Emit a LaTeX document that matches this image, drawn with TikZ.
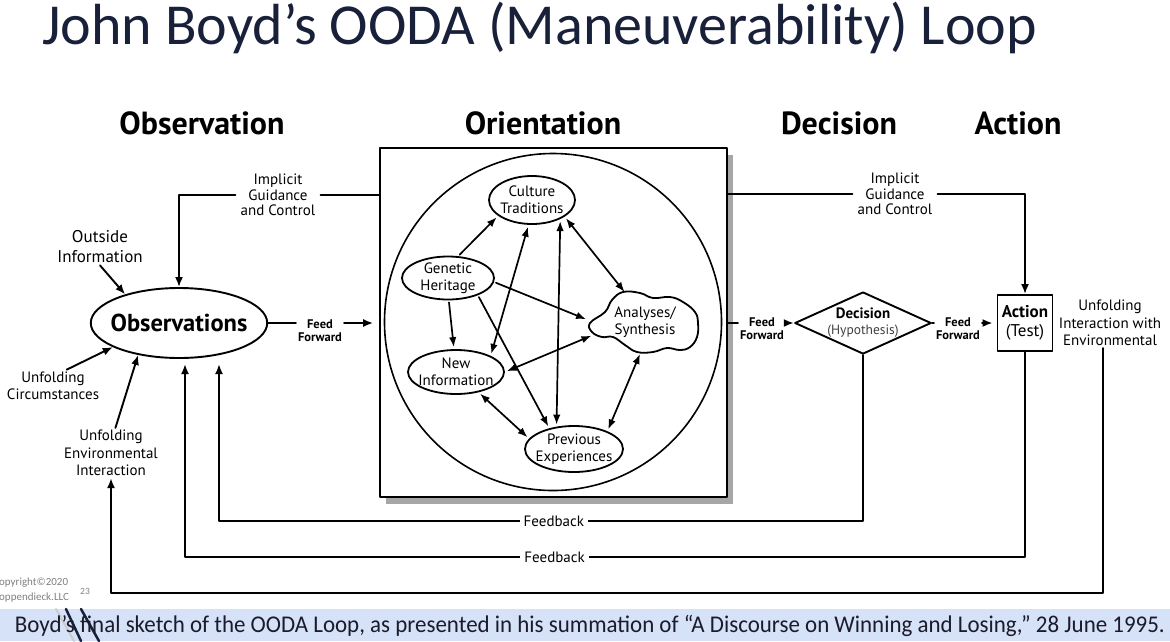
\documentclass[tikz,border=0pt]{standalone}
\usepackage{fontspec}
\usepackage{graphicx}
\usetikzlibrary{shapes.geometric,arrows.meta,calc,shadows}
\newfontfamily\labelfont{PT Sans}
\newfontfamily\titlefont{Carlito}
\definecolor{TitleNavy}{HTML}{18203A}
\definecolor{CaptionBlue}{HTML}{D6E2F7}
\definecolor{CaptionInk}{HTML}{1B1B2B}
\definecolor{ShadowGray}{HTML}{A6A6A6}

\begin{document}
\begin{tikzpicture}[x=1pt,y=-1pt,line cap=round,line join=round,
  conn/.style={line width=1.9pt},
  arr/.style={conn,-{Latex[length=10pt,width=8pt]}},
  inarr/.style={line width=1.7pt,shorten >=2pt,shorten <=2pt,-{Latex[length=10pt,width=7.5pt]}},
  indarr/.style={line width=1.7pt,shorten >=2pt,shorten <=2pt,{Latex[length=10pt,width=7.5pt]}-{Latex[length=10pt,width=7.5pt]}},
  lbl/.style={font=\labelfont\fontsize{15}{17.5}\selectfont,align=center,inner sep=2pt},
  guide/.style={align=center,font=\labelfont\fontsize{15}{15.5}\selectfont,inner sep=5pt},
  head/.style={font=\labelfont\bfseries\fontsize{32}{34}\selectfont},
  ff/.style={font=\labelfont\bfseries\fontsize{12.5}{13}\selectfont,align=center,inner sep=2pt},
  oval/.style={draw,ellipse,line width=1.8pt,inner xsep=-8pt,inner ysep=-6pt,align=center,font=\labelfont\fontsize{15}{17}\selectfont},
  fb/.style={font=\labelfont\fontsize{15}{15}\selectfont,fill=white,inner sep=4pt}]
  \useasboundingbox (0,0) rectangle (1170,641);

  % title and phase headers
  \node[anchor=base west,inner sep=0pt,text=TitleNavy,font=\titlefont\fontsize{58}{58}\selectfont] (title) at (42,44) {John Boyd’s OODA (Maneuverability) Loop};
  \node[head] (hobs) at (202,123) {Observation};
  \node[head] (hori) at (543,123) {Orientation};
  \node[head] (hdec) at (839,123) {Decision};
  \node[head] (hact) at (1018,123) {Action};

  % orientation box
  \node[draw,fill=white,line width=1.6pt,minimum width=347pt,minimum height=349pt,drop shadow={shadow xshift=6pt,shadow yshift=-7pt,fill=ShadowGray,opacity=1}] (orient) at (553.5,322.5) {};
  \node[draw,circle,line width=1.6pt,minimum size=337pt] (ring) at (553,322) {};
  \node[oval,minimum width=86pt,minimum height=48pt] (culture) at (532,200) {Culture\\Traditions};
  \node[oval,minimum width=92pt,minimum height=43pt] (genetic) at (448,278) {Genetic\\Heritage};
  \node[oval,minimum width=96pt,minimum height=44pt] (newinfo) at (456,372) {New\\Information};
  \node[oval,minimum width=98pt,minimum height=46pt] (previous) at (574,449) {Previous\\Experiences};
  \node[ellipse,inner xsep=-8pt,inner ysep=-6pt,align=center,font=\labelfont\fontsize{15}{17}\selectfont,minimum width=114pt,minimum height=60pt] (analyses) at (645,322) {Analyses/\\Synthesis};
  \draw[line width=1.8pt] plot[smooth cycle,tension=0.7] coordinates {(590,323) (605,312) (612,300) (623,292) (640,293) (653,298) (670,297) (683,302) (695,312) (698,323) (697,337) (690,347) (680,350) (667,348) (653,352) (637,352) (625,345) (613,337) (602,337) (592,332)};

  \draw[inarr] (genetic.65) -- (culture.205);
  \draw[inarr] (genetic.272) -- (newinfo.95);
  \draw[inarr] (genetic.-5) -- (analyses.178);
  \draw[inarr] (genetic.-30) -- (previous.140);
  \draw[indarr] (newinfo.25) -- (culture.262);
  \draw[indarr] (culture.-34) -- (previous.128);
  \draw[indarr] (culture.-27) -- (analyses.124);
  \draw[indarr] (newinfo.0) -- (analyses.194);
  \draw[indarr] (newinfo.-42) -- (previous.167);
  \draw[indarr] (previous.28) -- (analyses.262);

  % observation side
  \node[draw,ellipse,line width=1.9pt,minimum width=158pt,minimum height=70pt,inner sep=-6pt,font=\labelfont\bfseries\fontsize{24.5}{26}\selectfont] (obs) at (179,323) {Observations};
  \node[lbl,font=\labelfont\fontsize{17}{20}\selectfont] (outside) at (100,247) {Outside\\Information};
  \node[lbl] (circum) at (53,386) {Unfolding\\Circumstances};
  \node[lbl] (envint) at (111,453) {Unfolding\\Environmental\\Interaction};
  \node[guide] (guideL) at (278,195) {Implicit\\Guidance\\and Control};
  \node[ff] (ffL) at (320,331) {Feed\\Forward};

  % decision and action side
  \node[draw,diamond,shape aspect=2.2,line width=1.9pt,inner sep=0pt,minimum width=124pt,minimum height=60pt,align=center,font=\labelfont\fontsize{15}{16}\selectfont] (decision) at (863,323) {\textbf{Decision}\\{\color{darkgray}\fontsize{13.5}{14}\selectfont(Hypothesis)}};
  \node[draw,line width=1.9pt,minimum width=55pt,minimum height=56pt,inner sep=0pt,align=center,font=\labelfont\fontsize{17}{19}\selectfont] (action) at (1025,323) {\textbf{Action}\\(Test)};
  \node[guide] (guideR) at (895,194) {Implicit\\Guidance\\and Control};
  \node[ff] (ffM) at (762,329) {Feed\\Forward};
  \node[ff] (ffR) at (958,329) {Feed\\Forward};
  \node[lbl] (unfold) at (1110,323) {Unfolding\\Interaction with\\Environmental};

  % connectors
  \draw[conn] (obs.east) -- (obs.east -| ffL.west);
  \draw[arr] (obs.east -| ffL.east) -- ($(obs.east -| orient.west)+(-6,0)$);
  \draw[conn] (orient.east |- decision.west) -- (ffM.west |- decision.west);
  \draw[arr] (ffM.east |- decision.west) -- (decision.west);
  \draw[conn] (decision.east) -- (ffR.west |- decision.east);
  \draw[arr] (ffR.east |- decision.east) -- ($(action.west)+(-4,0)$);
  \draw[conn] (guideL.east) -- (guideL.east -| orient.west);
  \draw[arr] (guideL.west) -| (obs.north);
  \draw[conn] (orient.east |- guideR.west) -- (guideR.west);
  \draw[arr] (guideR.east) -| (action.north);
  \draw[arr] (outside.south) -- (obs.152);
  \draw[arr] (circum.50) -- (obs.200);
  \draw[arr] (envint.80) -- (obs.218);
  \coordinate (fbin) at (219,364);
  \coordinate (fbout) at (185,364);
  \draw[arr] (decision.south) -- ++(0,166) -| node[fb,pos=0.24] (fbtxtin) {Feedback} (fbin);
  \draw[arr] (action.south) -- ++(0,205) -| node[fb,pos=0.28] (fbtxtout) {Feedback} (fbout);
  \draw[arr] ($(unfold.south)+(-7,0)$) -- ++(0,245) -| (envint.south);

  % slide footer
  \node[anchor=west,inner sep=0pt,text=gray,font=\titlefont\fontsize{11}{11}\selectfont] (copy1) at (-1,583) {opyright©2020};
  \node[anchor=west,inner sep=0pt,text=gray,font=\titlefont\fontsize{11}{11}\selectfont] (copy2) at (-1,598) {oppendieck.LLC};
  \node[text=gray,font=\titlefont\fontsize{9.5}{9.5}\selectfont] (page) at (85,591) {23};
  \fill[CaptionBlue] (0,609) rectangle (1170,641);
  \draw[gray!40,line width=2pt] (56,609) -- (74,641);
  \draw[TitleNavy,line width=2.5pt] (66,609) -- (81,641);
  \draw[TitleNavy,line width=2.5pt] (81,609) -- (99,641);
  \node[inner sep=0pt,text=CaptionInk,font=\titlefont\fontsize{24}{24}\selectfont] (caption) at (590,626) {\resizebox{1150pt}{\height}{Boyd’s final sketch of the OODA Loop, as presented in his summation of “A Discourse on Winning and Losing,” 28 June 1995.}};
\end{tikzpicture}
\end{document}
